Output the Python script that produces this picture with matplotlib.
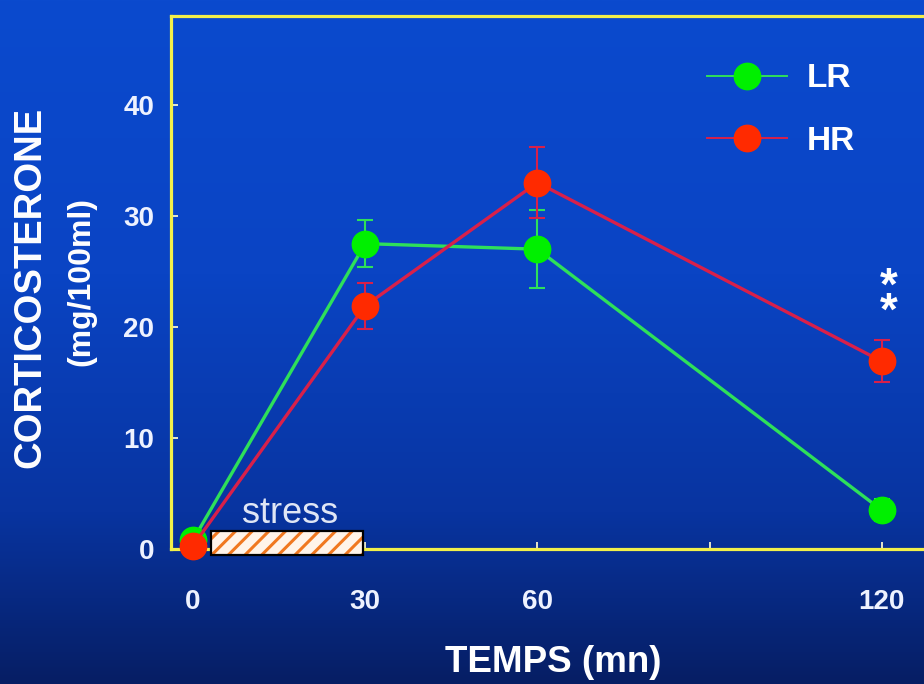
import numpy as np
import matplotlib
matplotlib.use("Agg")
import matplotlib.pyplot as plt
from matplotlib.lines import Line2D
from matplotlib.patches import Rectangle
from matplotlib.colors import LinearSegmentedColormap

plt.rcParams['font.family'] = ['Liberation Sans', 'DejaVu Sans']
plt.rcParams['hatch.linewidth'] = 2.2

# ---- data ----
times = [0, 30, 60, 120]
lr_mean = [0.8, 27.5, 27.0, 3.5]
lr_err = [0.5, 2.1, 3.5, 1.0]
hr_mean = [0.3, 21.9, 33.0, 16.9]
hr_err = [0.4, 2.1, 3.2, 1.9]
series_labels = ['LR', 'HR']
xtick_vals = [0, 30, 60, 90, 120]
xtick_labels = ['0', '30', '60', '', '120']
ytick_vals = [0, 10, 20, 30, 40]
stress_span = (3.1, 29.6)
sig_text = '*\n*'
sig_x = 121.3
sig_y = 22.4

W, H = 924, 684
fig = plt.figure(figsize=(W / 100, H / 100), dpi=100)

# background gradient
bg = fig.add_axes([0, 0, 1, 1], zorder=-10)
cmap = LinearSegmentedColormap.from_list(
    'bg', [(0.0, (6/255, 30/255, 100/255)), (0.25, (8/255, 52/255, 160/255)),
           (0.6, (10/255, 68/255, 196/255)), (1.0, (11/255, 74/255, 206/255))])
grad = np.linspace(0, 1, 256).reshape(-1, 1)
bg.imshow(grad, aspect='auto', cmap=cmap, origin='lower', extent=[0, 1, 0, 1])
bg.set_axis_off()

def px(x0, y0, x1, y1):
    return [x0 / W, 1 - y1 / H, (x1 - x0) / W, (y1 - y0) / H]

ax = fig.add_axes(px(171, 16, 945, 549))
ax.patch.set_alpha(0)
ax.set_xlim(-3.83, (945 - 193) / 5.74)
ax.set_ylim(0, 48.0)

yellow = '#f2f04a'
for s in ax.spines.values():
    s.set_color(yellow)
    s.set_linewidth(2.3)

ax.set_xticks(xtick_vals)
ax.set_xticklabels(xtick_labels)
ax.set_yticks(ytick_vals)
ax.tick_params(axis='both', direction='in', length=5, width=1.3, color='#f5f5d0',
               labelcolor='#eef2ff', labelsize=20)
ax.tick_params(axis='y', pad=12)
ax.tick_params(axis='x', pad=29)
for lab in ax.get_xticklabels() + ax.get_yticklabels():
    lab.set_fontweight('bold')

green_line = '#2ee05a'
green_mk = '#00f000'
red_line = '#d8204a'
red_mk = '#ff2a00'

ax.errorbar(times, lr_mean, yerr=lr_err, color=green_line, lw=2.4, capsize=6,
            elinewidth=1.5, capthick=1.5, marker='o', ms=19, mfc=green_mk,
            mec=green_mk, zorder=4, clip_on=False)
ax.errorbar(times, hr_mean, yerr=hr_err, color=red_line, lw=2.4, capsize=6,
            elinewidth=1.5, capthick=1.5, marker='o', ms=19, mfc=red_mk,
            mec=red_mk, zorder=5, clip_on=False)

# stress bar
sx0, sx1 = stress_span
ax.add_patch(Rectangle((sx0, -0.55), sx1 - sx0, 2.15, facecolor='#fff4ea',
                       edgecolor='#f07820', hatch='//', lw=0, clip_on=False, zorder=3))
ax.add_patch(Rectangle((sx0, -0.55), sx1 - sx0, 2.15, facecolor='none',
                       edgecolor='black', lw=1.6, clip_on=False, zorder=3.5))
ax.text(16.9, 2.35, 'stress', ha='center', va='baseline',
        fontsize=26, color='#dfe6f5')

# significance
ax.text(sig_x, sig_y, sig_text, ha='center', va='center', fontsize=33,
        fontweight='bold', color='white', linespacing=0.44)

# legend
handles = [Line2D([], [], color=green_line, lw=1.4, marker='o', ms=19,
                  mfc=green_mk, mec=green_mk),
           Line2D([], [], color=red_line, lw=1.4, marker='o', ms=19,
                  mfc=red_mk, mec=red_mk)]
leg = fig.legend(handles, series_labels, loc='center left',
                 bbox_to_anchor=(707 / W, 1 - 110 / H), frameon=False,
                 handlelength=2.4, handletextpad=0.6, labelspacing=0.95,
                 borderpad=0, borderaxespad=0,
                 prop={'size': 24, 'weight': 'bold'})
for t in leg.get_texts():
    t.set_color('white')

# axis labels
fig.text(30 / W, 1 - 287 / H, 'CORTICOSTERONE', rotation=90, ha='center',
         va='center', fontsize=27.5, fontweight='bold', color='white')
fig.text(81 / W, 1 - 281 / H, '(mg/100ml)', rotation=90, ha='center',
         va='center', fontsize=23, fontweight='bold', color='white')
fig.text(553 / W, 1 - 662 / H, 'TEMPS (mn)', ha='center', va='center',
         fontsize=26.5, fontweight='bold', color='white')

fig.savefig('out.png', dpi=100)
